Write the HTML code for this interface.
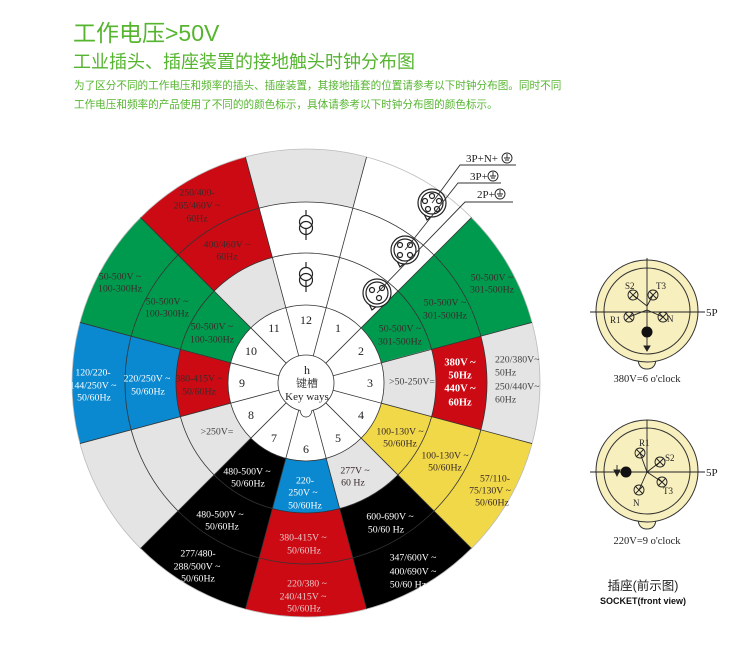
<!DOCTYPE html>
<html><head><meta charset="utf-8"><style>
html,body{margin:0;padding:0;background:#fff;}
body{width:750px;height:660px;position:relative;overflow:hidden;font-family:"Liberation Sans","Noto Sans CJK SC",sans-serif;}
.t1{position:absolute;left:73px;top:14px;font-size:23px;color:#55b52f;white-space:nowrap;}
.t2{position:absolute;left:73px;top:48px;font-size:18px;color:#55b52f;white-space:nowrap;}
.p{position:absolute;left:74px;font-size:10.6px;color:#55b52f;white-space:nowrap;}
svg{position:absolute;left:0;top:0;}
</style></head><body>
<div class="t1">工作电压&gt;50V</div>
<div class="t2">工业插头、插座装置的接地触头时钟分布图</div>
<div class="p" style="top:78px">为了区分不同的工作电压和频率的插头、插座装置，其接地插套的位置请参考以下时钟分布图。同时不同</div>
<div class="p" style="top:97px">工作电压和频率的产品使用了不同的的颜色标示，具体请参考以下时钟分布图的颜色标示。</div>
<svg width="750" height="660" viewBox="0 0 750 660" font-family="'Liberation Serif','Noto Serif CJK SC',serif">
<g transform="translate(306,383)" fill="none">
<circle r="234" fill="#fff"/>
<g stroke-width="52">
<circle r="104" pathLength="360" stroke="#009a4e" stroke-dasharray="30 330" stroke-dashoffset="45"/>
<circle r="104" pathLength="360" stroke="#e4e4e4" stroke-dasharray="30 330" stroke-dashoffset="15"/>
<circle r="104" pathLength="360" stroke="#f0d848" stroke-dasharray="30 330" stroke-dashoffset="-15"/>
<circle r="104" pathLength="360" stroke="#e4e4e4" stroke-dasharray="30 330" stroke-dashoffset="-45"/>
<circle r="104" pathLength="360" stroke="#0a88d0" stroke-dasharray="30 330" stroke-dashoffset="-75"/>
<circle r="104" pathLength="360" stroke="#000" stroke-dasharray="30 330" stroke-dashoffset="-105"/>
<circle r="104" pathLength="360" stroke="#e4e4e4" stroke-dasharray="30 330" stroke-dashoffset="-135"/>
<circle r="104" pathLength="360" stroke="#cc0a14" stroke-dasharray="30 330" stroke-dashoffset="-165"/>
<circle r="104" pathLength="360" stroke="#009a4e" stroke-dasharray="30 330" stroke-dashoffset="-195"/>
<circle r="104" pathLength="360" stroke="#e4e4e4" stroke-dasharray="30 330" stroke-dashoffset="-225"/>
</g>
<g stroke-width="51">
<circle r="155.5" pathLength="360" stroke="#009a4e" stroke-dasharray="30 330" stroke-dashoffset="45"/>
<circle r="155.5" pathLength="360" stroke="#cc0a14" stroke-dasharray="30 330" stroke-dashoffset="15"/>
<circle r="155.5" pathLength="360" stroke="#f0d848" stroke-dasharray="30 330" stroke-dashoffset="-15"/>
<circle r="155.5" pathLength="360" stroke="#000" stroke-dasharray="30 330" stroke-dashoffset="-45"/>
<circle r="155.5" pathLength="360" stroke="#cc0a14" stroke-dasharray="30 330" stroke-dashoffset="-75"/>
<circle r="155.5" pathLength="360" stroke="#000" stroke-dasharray="30 330" stroke-dashoffset="-105"/>
<circle r="155.5" pathLength="360" stroke="#e4e4e4" stroke-dasharray="30 330" stroke-dashoffset="-135"/>
<circle r="155.5" pathLength="360" stroke="#0a88d0" stroke-dasharray="30 330" stroke-dashoffset="-165"/>
<circle r="155.5" pathLength="360" stroke="#009a4e" stroke-dasharray="30 330" stroke-dashoffset="-195"/>
<circle r="155.5" pathLength="360" stroke="#cc0a14" stroke-dasharray="30 330" stroke-dashoffset="-225"/>
</g>
<g stroke-width="53">
<circle r="207.5" pathLength="360" stroke="#009a4e" stroke-dasharray="30 330" stroke-dashoffset="45"/>
<circle r="207.5" pathLength="360" stroke="#e4e4e4" stroke-dasharray="30 330" stroke-dashoffset="15"/>
<circle r="207.5" pathLength="360" stroke="#f0d848" stroke-dasharray="30 330" stroke-dashoffset="-15"/>
<circle r="207.5" pathLength="360" stroke="#000" stroke-dasharray="30 330" stroke-dashoffset="-45"/>
<circle r="207.5" pathLength="360" stroke="#cc0a14" stroke-dasharray="30 330" stroke-dashoffset="-75"/>
<circle r="207.5" pathLength="360" stroke="#000" stroke-dasharray="30 330" stroke-dashoffset="-105"/>
<circle r="207.5" pathLength="360" stroke="#e4e4e4" stroke-dasharray="30 330" stroke-dashoffset="-135"/>
<circle r="207.5" pathLength="360" stroke="#0a88d0" stroke-dasharray="30 330" stroke-dashoffset="-165"/>
<circle r="207.5" pathLength="360" stroke="#009a4e" stroke-dasharray="30 330" stroke-dashoffset="-195"/>
<circle r="207.5" pathLength="360" stroke="#cc0a14" stroke-dasharray="30 330" stroke-dashoffset="-225"/>
<circle r="207.5" pathLength="360" stroke="#e4e4e4" stroke-dasharray="30 330" stroke-dashoffset="-255"/>
</g>
<circle r="78" fill="#fff"/>
<g stroke="#333" stroke-width="0.8">
<circle r="130"/><circle r="181"/><circle r="78"/><circle r="234" stroke="#bbb"/>
<line x1="28" x2="234" transform="rotate(-105)"/><line x1="28" x2="234" transform="rotate(-75)"/>
<line x1="28" x2="234" transform="rotate(-45)"/><line x1="28" x2="234" transform="rotate(-15)"/>
<line x1="28" x2="234" transform="rotate(15)"/><line x1="28" x2="234" transform="rotate(45)"/>
<line x1="28" x2="234" transform="rotate(75)"/><line x1="28" x2="234" transform="rotate(105)"/>
<line x1="28" x2="234" transform="rotate(135)"/><line x1="28" x2="234" transform="rotate(165)"/>
<line x1="28" x2="234" transform="rotate(195)"/><line x1="28" x2="234" transform="rotate(225)"/>
<circle r="28" fill="#fff"/>
<path d="M-6,27 Q-5,34 0,34 Q5,34 6,27" fill="#fff"/>
</g>
</g>
<g font-size="12" fill="#222" text-anchor="middle" dominant-baseline="central">
<text x="338" y="328">1</text><text x="361" y="351">2</text><text x="370" y="383">3</text>
<text x="361" y="415">4</text><text x="338" y="438">5</text><text x="306" y="449">6</text>
<text x="274" y="438">7</text><text x="251" y="415">8</text><text x="242" y="383">9</text>
<text x="251" y="351">10</text><text x="274" y="328">11</text><text x="306" y="320">12</text>
<text x="307" y="370">h</text><text x="307" y="384" font-size="11">键槽</text><text x="307" y="397" font-size="11">Key ways</text>
</g>
<g font-size="9.8" text-anchor="middle" dominant-baseline="central" fill="#3a2a2a">
<text x="197" y="193">250/400-</text><text x="197" y="206">265/460V ~</text><text x="197" y="219">60Hz</text>
<text x="227" y="245">400/460V ~</text><text x="227" y="257">60Hz</text>
<text x="120" y="277">50-500V ~</text><text x="120" y="289">100-300Hz</text>
<text x="167" y="302">50-500V ~</text><text x="167" y="314">100-300Hz</text>
<text x="212" y="327">50-500V ~</text><text x="212" y="340">100-300Hz</text>
<text x="199" y="379">380-415V ~</text><text x="199" y="392">50/60Hz</text>
<text x="217" y="432" fill="#444">&gt;250V=</text>
<text x="355" y="471">277V ~</text><text x="353" y="483">60 Hz</text>
<text x="400" y="432">100-130V ~</text><text x="400" y="444">50/60Hz</text>
<text x="445" y="456">100-130V ~</text><text x="445" y="468">50/60Hz</text>
<text x="495" y="479">57/110-</text><text x="490" y="491">75/130V ~</text><text x="492" y="503">50/60Hz</text>
<text x="412" y="382" fill="#444">&gt;50-250V=</text>
<text x="400" y="329">50-500V ~</text><text x="400" y="342">301-500Hz</text>
<text x="445" y="303">50-500V ~</text><text x="445" y="316">301-500Hz</text>
<text x="492" y="278">50-500V ~</text><text x="492" y="290">301-500Hz</text>
<g text-anchor="start" fill="#444"><text x="495" y="360">220/380V~</text><text x="495" y="373">50Hz</text><text x="495" y="387">250/440V~</text><text x="495" y="400">60Hz</text></g>
<g fill="#fff">
<text x="93" y="373">120/220-</text><text x="93" y="386">144/250V ~</text><text x="94" y="398">50/60Hz</text>
<text x="147" y="379">220/250V ~</text><text x="148" y="392">50/60Hz</text>
<text x="247" y="472">480-500V ~</text><text x="248" y="484">50/60Hz</text>
<text x="220" y="515">480-500V ~</text><text x="222" y="527">50/60Hz</text>
<text x="198" y="554">277/480-</text><text x="197" y="567">288/500V ~</text><text x="198" y="579">50/60Hz</text>
<text x="305" y="481">220-</text><text x="303" y="493">250V ~</text><text x="305" y="506">50/60Hz</text>
<text x="390" y="517">600-690V ~</text><text x="386" y="530">50/60 Hz</text>
<text x="413" y="558">347/600V ~</text><text x="413" y="572">400/690V ~</text><text x="408" y="585">50/60 Hz</text>
<g font-weight="bold" font-size="10.5"><text x="460" y="363">380V ~</text><text x="460" y="376">50Hz</text><text x="460" y="389">440V ~</text><text x="460" y="403">60Hz</text></g>
</g>
<g fill="#e8c8c8">
<text x="303" y="538">380-415V ~</text><text x="304" y="551">50/60Hz</text>
<text x="307" y="584">220/380 ~</text><text x="303" y="597">240/415V ~</text><text x="304" y="609">50/60Hz</text>
</g>
</g>
<g stroke="#222" stroke-width="1.2" fill="none">
<line x1="306" y1="210" x2="306" y2="240"/><circle cx="306" cy="222" r="6.5" fill="#fff"/><circle cx="306" cy="228" r="6.5"/>
<line x1="306" y1="262" x2="306" y2="292"/><circle cx="306" cy="274" r="6.5" fill="#fff"/><circle cx="306" cy="280" r="6.5"/>
</g>
<g stroke="#222" stroke-width="1.2" fill="#fff">
<path d="M424,214 l3,6 l5,-4z"/><circle cx="432" cy="203" r="14"/><circle cx="432" cy="203" r="11"/>
<circle cx="432" cy="196" r="2.5"/><circle cx="425" cy="201" r="2.5"/><circle cx="439" cy="201" r="2.5"/><circle cx="428" cy="209" r="2.5"/><circle cx="437" cy="209" r="2.5"/>
<path d="M397,261 l3,6 l5,-4z"/><circle cx="405" cy="250" r="14"/><circle cx="405" cy="250" r="11"/>
<circle cx="400" cy="245" r="2.5"/><circle cx="410" cy="245" r="2.5"/><circle cx="400" cy="255" r="2.5"/><circle cx="410" cy="255" r="2.5"/>
<path d="M369,304 l3,6 l5,-4z"/><circle cx="377" cy="293" r="14"/><circle cx="377" cy="293" r="11"/>
<circle cx="372" cy="290" r="2.5"/><circle cx="382" cy="288" r="2.5"/><circle cx="379" cy="298" r="2.5"/>
</g>
<g stroke="#333" stroke-width="0.9" fill="none">
<polyline points="432,203 460,165 516,165"/>
<polyline points="405,250 458,183 501,183"/>
<polyline points="377,293 465,202 513,202"/>
</g>
<g font-size="11" fill="#222">
<text x="466" y="162">3P+N+</text><text x="470" y="180">3P+</text><text x="477" y="198">2P+</text>
</g>
<g stroke="#222" stroke-width="0.9" fill="none">
<circle cx="507" cy="158" r="5"/><path d="M507,154 v4 M504,158 h6 M505,160 h4"/>
<circle cx="493" cy="176" r="5"/><path d="M493,172 v4 M490,176 h6 M491,178 h4"/>
<circle cx="500" cy="194" r="5"/><path d="M500,190 v4 M497,194 h6 M498,196 h4"/>
</g>
<!-- right sockets -->
<g stroke="#333" stroke-width="1" fill="#f8efbf">
<path d="M638,358 q0,11 9,11 q9,0 9,-11z"/>
<circle cx="647" cy="311" r="51"/>
<circle cx="647" cy="311" r="43" fill="none"/>
<path d="M638,518 q0,11 9,11 q9,0 9,-11z"/>
<circle cx="647" cy="471" r="51"/>
<circle cx="647" cy="471" r="43" fill="none"/>
</g>
<g stroke="#222" stroke-width="0.9" fill="none">
<line x1="590" y1="312" x2="705" y2="312"/><line x1="647" y1="258" x2="647" y2="340"/>
<line x1="647" y1="306" x2="633" y2="295"/><line x1="647" y1="306" x2="653" y2="295"/>
<path d="M629,317 L647,310 L663,317"/>
<circle cx="633" cy="295" r="5"/><path d="M629,291 l8,8 M637,291 l-8,8"/>
<circle cx="653" cy="295" r="5"/><path d="M649,291 l8,8 M657,291 l-8,8"/>
<circle cx="629" cy="317" r="5"/><path d="M625,313 l8,8 M633,313 l-8,8"/>
<circle cx="663" cy="317" r="5"/><path d="M659,313 l8,8 M667,313 l-8,8"/>
<line x1="647" y1="340" x2="647" y2="350"/><path d="M644,346 L647,351 L650,346z" fill="#222"/>
<line x1="590" y1="472" x2="705" y2="472"/><line x1="647" y1="420" x2="647" y2="472"/>
<path d="M640,453 L647,472 L660,462 M647,472 L662,482 M647,472 L639,490"/>
<circle cx="640" cy="453" r="5"/><path d="M636,449 l8,8 M644,449 l-8,8"/>
<circle cx="660" cy="462" r="5"/><path d="M656,458 l8,8 M664,458 l-8,8"/>
<circle cx="662" cy="482" r="5"/><path d="M658,478 l8,8 M666,478 l-8,8"/>
<circle cx="639" cy="490" r="5"/><path d="M635,486 l8,8 M643,486 l-8,8"/>
<line x1="617" y1="465" x2="617" y2="474"/><path d="M614,470 L617,476 L620,470z" fill="#222"/>
</g>
<circle cx="647" cy="332" r="5.5" fill="#111"/>
<circle cx="626" cy="472" r="5.5" fill="#111"/>
<g font-size="9" fill="#222">
<text x="625" y="289">S2</text><text x="656" y="289">T3</text><text x="610" y="323">R1</text><text x="667" y="322">N</text>
<text x="639" y="446">R1</text><text x="665" y="461">S2</text><text x="663" y="494">T3</text><text x="633" y="506">N</text>
</g>
<g font-size="11" fill="#222">
<text x="706" y="316">5P</text><text x="706" y="476">5P</text>
<text x="647" y="382" text-anchor="middle" font-size="10.5">380V=6 o'clock</text>
<text x="647" y="544" text-anchor="middle" font-size="10.5">220V=9 o'clock</text>
</g>
<text x="643" y="590" text-anchor="middle" font-size="12.5" fill="#222" font-family="'Liberation Sans','Noto Sans CJK SC',sans-serif">插座(前示图)</text>
<text x="643" y="604" text-anchor="middle" font-size="9" font-weight="bold" fill="#111" font-family="'Liberation Sans',sans-serif">SOCKET(front view)</text>
</svg>
</body></html>
